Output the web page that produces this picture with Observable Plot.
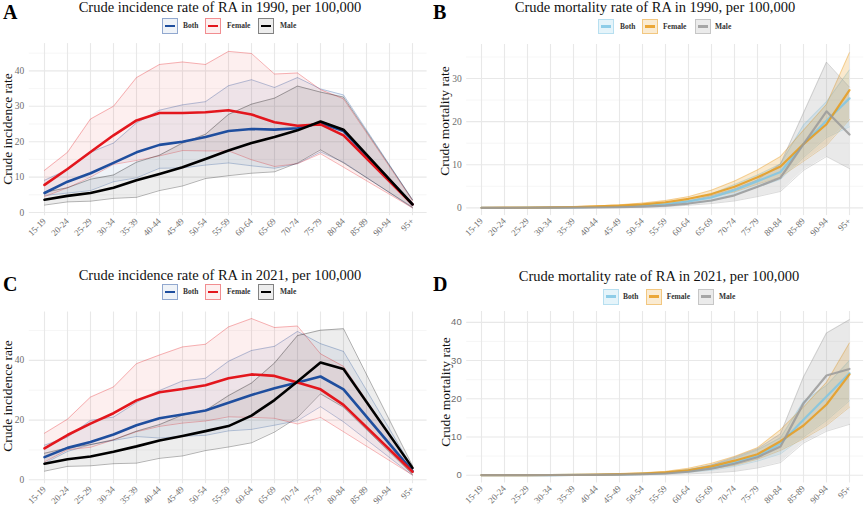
<!DOCTYPE html>
<html><head><meta charset="utf-8">
<script src="https://cdn.jsdelivr.net/npm/d3@7"></script>
<script src="https://cdn.jsdelivr.net/npm/@observablehq/plot@0.6"></script>
<style>
body{margin:0;background:#fff;}
#root{position:relative;width:865px;height:508px;overflow:hidden;font-family:"Liberation Serif","Times New Roman",serif;color:#111;}
.abs{position:absolute;white-space:nowrap;line-height:1;}
.letter{font-weight:bold;font-size:20px;color:#000;}
.title{font-size:14.5px;transform:translateX(-50%);color:#111;}
.ylab{font-size:13.5px;transform:translate(-50%,-50%) rotate(-90deg);color:#111;}
.key{position:absolute;box-sizing:border-box;}
.keyline{position:absolute;left:2px;right:2px;top:50%;height:2.6px;margin-top:-1.3px;}
.klab{position:absolute;font-size:7.5px;font-weight:bold;color:#333;white-space:nowrap;}
.plot{position:absolute;}
</style></head><body><div id="root"></div><script>
const ages = ["15-19","20-24","25-29","30-34","35-39","40-44","45-49","50-54","55-59","60-64","65-69","70-74","75-79","80-84","85-89","90-94","95+"];
const sexes = ["Both","Female","Male"];

// Panel A: crude incidence 1990
const inc1990_both    = [5.5, 8.7, 11.1, 14.0, 17.0, 19.1, 20.0, 21.3, 23.0, 23.6, 23.4, 23.8, 25.3, 23.0, null, null, 2.3];
const inc1990_both_lo = [4.8, 5.5, 6.2, 8.7, 9.8, 12.5, 12.6, 13.4, 14.0, 13.2, 12.5, 13.8, 17.1, 14.2, null, null, 1.3];
const inc1990_both_hi = [9.1, 12.1, 17.0, 19.6, 25.3, 28.9, 30.4, 31.3, 35.8, 37.5, 35.3, 38.1, 34.9, 33.2, null, null, 3.6];
const inc1990_female    = [7.8, 12.3, 17.1, 21.8, 26.0, 28.1, 28.1, 28.3, 28.9, 27.7, 25.5, 24.5, 24.9, 21.8, null, null, 2.3];
const inc1990_female_lo = [4.5, 7.0, 10.0, 13.6, 14.7, 16.0, 17.5, 17.4, 17.4, 14.9, 13.0, 13.8, 16.6, 12.8, null, null, 1.3];
const inc1990_female_hi = [11.9, 17.0, 26.4, 30.0, 38.1, 41.8, 42.5, 41.8, 45.5, 44.9, 39.1, 39.4, 34.7, 32.1, null, null, 3.4];
const inc1990_male    = [3.6, 4.7, 5.5, 7.0, 9.1, 10.9, 12.8, 15.1, 17.5, 19.6, 21.3, 23.2, 25.7, 23.4, null, null, 2.3];
const inc1990_male_lo = [2.1, 3.0, 3.2, 4.0, 4.3, 6.2, 7.5, 9.6, 10.4, 11.1, 11.5, 14.0, 17.7, 14.0, null, null, 1.5];
const inc1990_male_hi = [5.7, 7.0, 9.4, 10.6, 14.2, 16.2, 19.6, 22.1, 27.7, 30.6, 32.3, 35.7, 34.0, 32.6, null, null, 3.6];

// Panel B: crude mortality 1990
const mort1990_both    = [0.01, 0.02, 0.04, 0.07, 0.12, 0.2, 0.32, 0.55, 0.85, 1.5, 2.4, 4.1, 6.2, 8.3, 14.8, 20.2, 25.4];
const mort1990_both_lo = [0, 0.01, 0.02, 0.04, 0.08, 0.12, 0.2, 0.35, 0.55, 1.0, 1.6, 3.0, 4.8, 6.6, 11.7, 16.3, 18.8];
const mort1990_both_hi = [0.02, 0.04, 0.07, 0.12, 0.18, 0.3, 0.45, 0.8, 1.2, 2.0, 3.2, 5.4, 7.6, 10.2, 19.2, 24.6, 32.0];
const mort1990_female    = [0.02, 0.03, 0.06, 0.12, 0.2, 0.32, 0.5, 0.8, 1.3, 2.1, 3.2, 4.9, 7.1, 9.6, 14.8, 19.4, 27.3];
const mort1990_female_lo = [0.01, 0.02, 0.04, 0.08, 0.13, 0.2, 0.32, 0.5, 0.9, 1.5, 2.5, 3.7, 5.5, 7.2, 10.8, 14.5, 20.5];
const mort1990_female_hi = [0.03, 0.05, 0.09, 0.17, 0.28, 0.45, 0.7, 1.1, 1.7, 2.6, 4.1, 6.2, 8.8, 11.9, 18.0, 24.0, 36.0];
const mort1990_male    = [0.01, 0.01, 0.02, 0.03, 0.05, 0.08, 0.14, 0.28, 0.5, 1.0, 1.7, 2.9, 4.9, 7.0, 14.8, 22.4, 17.0];
const mort1990_male_lo = [0, 0, 0.01, 0.01, 0.02, 0.04, 0.07, 0.15, 0.28, 0.6, 1.0, 1.6, 2.6, 3.8, 8.7, 11.9, 9.1];
const mort1990_male_hi = [0.02, 0.02, 0.03, 0.05, 0.08, 0.13, 0.22, 0.42, 0.8, 1.6, 2.8, 4.4, 6.5, 10.2, 22.0, 33.8, 28.0];

// Panel C: crude incidence 2021
const inc2021_both    = [7.6, 10.7, 12.7, 15.2, 18.3, 20.6, 21.9, 23.2, 25.8, 28.4, 30.7, 32.6, 34.6, 30.3, null, null, 2.9];
const inc2021_both_lo = [5.5, 9.5, 11.8, 13.2, 14.5, 14.0, 14.6, 14.9, 16.4, 16.9, 18.3, 19.8, 24.5, 19.4, null, null, 1.5];
const inc2021_both_hi = [11.6, 14.3, 19.9, 21.0, 25.9, 29.9, 33.1, 34.0, 39.7, 43.3, 44.7, 49.7, 45.6, 43.0, null, null, 4.0];
const inc2021_female    = [10.5, 15.0, 18.8, 22.3, 26.6, 29.3, 30.4, 31.7, 34.0, 35.3, 34.8, 32.6, 30.3, 25.1, null, null, 2.7];
const inc2021_female_lo = [6.0, 10.1, 10.9, 13.4, 16.1, 17.9, 19.0, 19.7, 21.1, 20.9, 20.6, 18.7, 20.9, 16.1, null, null, 1.6];
const inc2021_female_hi = [15.6, 20.3, 27.7, 31.1, 38.9, 41.8, 44.5, 45.4, 51.2, 54.0, 51.0, 51.5, 42.2, 38.0, null, null, 4.0];
const inc2021_male    = [5.4, 6.9, 7.8, 9.4, 11.2, 13.2, 14.7, 16.3, 18.0, 21.5, 26.7, 32.9, 39.3, 37.1, null, null, 4.0];
const inc2021_male_lo = [2.9, 4.5, 4.7, 5.4, 5.6, 7.2, 8.0, 9.8, 11.0, 12.4, 16.0, 20.9, 28.8, 24.3, null, null, 1.8];
const inc2021_male_hi = [8.9, 10.7, 11.8, 13.4, 16.3, 18.5, 21.7, 23.2, 28.2, 32.4, 39.1, 48.3, 50.1, 50.6, null, null, 4.7];

// Panel D: crude mortality 2021
const mort2021_both    = [0.01, 0.01, 0.02, 0.04, 0.07, 0.12, 0.2, 0.35, 0.6, 1.1, 1.9, 3.3, 5.0, 8.3, 14.5, 20.6, 26.7];
const mort2021_both_lo = [0, 0.01, 0.01, 0.02, 0.04, 0.07, 0.13, 0.22, 0.4, 0.75, 1.3, 2.3, 3.7, 5.6, 10.0, 14.3, 19.5];
const mort2021_both_hi = [0.02, 0.02, 0.03, 0.06, 0.1, 0.17, 0.28, 0.48, 0.8, 1.5, 2.6, 4.4, 6.6, 9.8, 19.3, 23.5, 30.0];
const mort2021_female    = [0.01, 0.02, 0.03, 0.06, 0.1, 0.16, 0.27, 0.45, 0.75, 1.3, 2.3, 3.8, 5.5, 8.9, 13.0, 18.5, 26.4];
const mort2021_female_lo = [0.01, 0.01, 0.02, 0.04, 0.07, 0.11, 0.18, 0.3, 0.5, 0.9, 1.7, 2.6, 4.2, 6.5, 9.5, 13.0, 17.8];
const mort2021_female_hi = [0.02, 0.03, 0.05, 0.09, 0.14, 0.22, 0.38, 0.62, 1.0, 1.8, 3.1, 4.9, 7.2, 11.9, 17.8, 24.3, 34.6];
const mort2021_male    = [0.01, 0.01, 0.02, 0.03, 0.05, 0.08, 0.13, 0.25, 0.45, 0.9, 1.7, 3.0, 4.7, 7.5, 18.8, 26.1, 27.8];
const mort2021_male_lo = [0, 0, 0.01, 0.01, 0.02, 0.04, 0.06, 0.12, 0.2, 0.35, 0.6, 1.0, 1.9, 3.3, 8.4, 11.5, 13.3];
const mort2021_male_hi = [0.02, 0.02, 0.03, 0.05, 0.08, 0.13, 0.22, 0.4, 0.7, 1.4, 2.7, 4.7, 6.9, 10.8, 25.7, 37.2, 40.7];

const titles = {
  A: "Crude incidence rate of RA in 1990, per 100,000",
  B: "Crude mortality rate of RA in 1990, per 100,000",
  C: "Crude incidence rate of RA in 2021, per 100,000",
  D: "Crude mortality rate of RA in 2021, per 100,000"
};
const yLabels = {inc: "Crude incidence rate", mort: "Crude mortality rate"};
const incColors = {Both: "#1f4e9e", Female: "#e3161d", Male: "#000000"};
const mortColors = {Both: "#7fc6e4", Female: "#e89b1c", Male: "#9a9a9a"};

function rows(mean, lo, hi) {
  return ages.map((age, i) => ({age, mean: mean[i], lo: lo[i], hi: hi[i]})).filter(d => d.mean != null);
}

const root = document.getElementById("root");
function addDiv(cls, text, style) {
  const d = document.createElement("div");
  d.className = cls;
  if (text != null) d.textContent = text;
  Object.assign(d.style, style);
  root.appendChild(d);
  return d;
}
function rgba(hex, a) {
  const c = d3.color(hex); c.opacity = a; return c.formatRgb();
}

function panel(cfg) {
  const marks = [
    Plot.ruleY(cfg.minors, {stroke: "#f2f2f2", strokeWidth: 0.7}),
    Plot.ruleY(cfg.majors, {stroke: "#e8e8e8", strokeWidth: 1.1}),
    Plot.gridX({stroke: "#e8e8e8", strokeOpacity: 1, strokeWidth: 1.1})
  ];
  cfg.series.forEach(s => {
    marks.push(Plot.areaY(s.data, {x: "age", y1: "lo", y2: "hi", fill: s.color, fillOpacity: cfg.fillOpacity}));
    marks.push(Plot.lineY(s.data, {x: "age", y: "lo", stroke: s.color, strokeOpacity: cfg.edgeOpacity, strokeWidth: 0.8}));
    marks.push(Plot.lineY(s.data, {x: "age", y: "hi", stroke: s.color, strokeOpacity: cfg.edgeOpacity, strokeWidth: 0.8}));
  });
  cfg.series.forEach(s => {
    marks.push(Plot.lineY(s.data, {x: "age", y: "mean", stroke: s.color, strokeOpacity: cfg.lineOpacity, strokeWidth: cfg.lineWidth}));
  });
  marks.push(Plot.axisX({tickRotate: -45, tickSize: 0, tickPadding: 4, fontSize: 9, fill: "#6e6e6e", label: null, fontFamily: "Liberation Serif"}));
  marks.push(Plot.axisY(cfg.majors, {tickSize: 0, tickPadding: 5, fontSize: 9.5, fill: "#6e6e6e", label: null, fontFamily: cfg.yTickFont}));
  const svg = Plot.plot({
    width: cfg.width, height: cfg.height,
    marginTop: cfg.mt, marginBottom: cfg.mb, marginLeft: cfg.ml, marginRight: cfg.mr,
    style: {fontFamily: "Liberation Serif", background: "transparent", overflow: "visible"},
    x: {type: "point", domain: ages, padding: 0.6},
    y: {domain: cfg.yDomain},
    marks
  });
  const wrap = addDiv("plot", null, {left: cfg.left + "px", top: cfg.top + "px"});
  wrap.appendChild(svg);

  addDiv("abs letter", cfg.letter, {left: cfg.letterX + "px", top: (cfg.letterBase - 16.75) + "px"});
  addDiv("abs title", cfg.title, {left: cfg.titleX + "px", top: (cfg.titleBase - 12.15) + "px"});
  addDiv("abs ylab", cfg.ylab, {left: cfg.ylabX + "px", top: cfg.ylabY + "px"});

  cfg.series.forEach((s, i) => {
    const k = addDiv("key", null, {left: cfg.keyX[i] + "px", top: cfg.keyTop + "px", width: "16px", height: "15.5px",
      border: "1px solid " + rgba(s.color, cfg.keyBorder), background: rgba(s.color, cfg.keyFill)});
    const ln = document.createElement("div");
    ln.className = "keyline";
    ln.style.background = rgba(s.color, cfg.lineOpacity);
    k.appendChild(ln);
    addDiv("klab", s.name, {left: cfg.labX[i] + "px", top: cfg.keyTop + "px", height: "15.5px", lineHeight: "15.5px"});
  });
}

const incSeries = (m) => [
  {name: "Both", color: incColors.Both, data: rows(m.both, m.both_lo, m.both_hi)},
  {name: "Female", color: incColors.Female, data: rows(m.female, m.female_lo, m.female_hi)},
  {name: "Male", color: incColors.Male, data: rows(m.male, m.male_lo, m.male_hi)}
];
const mortSeries = (m) => [
  {name: "Both", color: mortColors.Both, data: rows(m.both, m.both_lo, m.both_hi)},
  {name: "Female", color: mortColors.Female, data: rows(m.female, m.female_lo, m.female_hi)},
  {name: "Male", color: mortColors.Male, data: rows(m.male, m.male_lo, m.male_hi)}
];

const incStyle = {fillOpacity: 0.07, edgeOpacity: 0.38, lineOpacity: 1, lineWidth: 2.6, keyBorder: 0.45, keyFill: 0.07, yTickFont: "Liberation Serif"};
const mortStyle = {fillOpacity: 0.22, edgeOpacity: 0.45, lineOpacity: 0.85, lineWidth: 2.2, keyBorder: 0.45, keyFill: 0.2};

panel(Object.assign({}, incStyle, {
  letter: "A", title: titles.A, ylab: yLabels.inc,
  series: incSeries({both: inc1990_both, both_lo: inc1990_both_lo, both_hi: inc1990_both_hi,
    female: inc1990_female, female_lo: inc1990_female_lo, female_hi: inc1990_female_hi,
    male: inc1990_male, male_lo: inc1990_male_lo, male_hi: inc1990_male_hi}),
  left: 0, top: 36, width: 432, height: 218, mt: 7.1, mb: 38.8, ml: 28.8, mr: 5.4,
  yDomain: [-0.9, 47.7], majors: [0, 10, 20, 30, 40], minors: [5, 15, 25, 35, 45],
  letterX: 3, letterBase: 18.3, titleX: 220, titleBase: 12.5, ylabX: 7.5, ylabY: 129,
  keyTop: 18.3, keyX: [162, 205, 258], labX: [183, 227, 280]
}));

panel(Object.assign({}, mortStyle, {
  letter: "B", title: titles.B, ylab: yLabels.mort, yTickFont: "Liberation Serif",
  series: mortSeries({both: mort1990_both, both_lo: mort1990_both_lo, both_hi: mort1990_both_hi,
    female: mort1990_female, female_lo: mort1990_female_lo, female_hi: mort1990_female_hi,
    male: mort1990_male, male_lo: mort1990_male_lo, male_hi: mort1990_male_hi}),
  left: 432, top: 36, width: 433, height: 218, mt: 8, mb: 38.9, ml: 34.2, mr: 1.9,
  yDomain: [-1.8, 37.9], majors: [0, 10, 20, 30], minors: [5, 15, 25, 35],
  letterX: 433, letterBase: 18.5, titleX: 655, titleBase: 12.5, ylabX: 445, ylabY: 121,
  keyTop: 18.5, keyX: [598, 642, 695], labX: [620, 663, 715]
}));

panel(Object.assign({}, incStyle, {
  letter: "C", title: titles.C, ylab: yLabels.inc,
  series: incSeries({both: inc2021_both, both_lo: inc2021_both_lo, both_hi: inc2021_both_hi,
    female: inc2021_female, female_lo: inc2021_female_lo, female_hi: inc2021_female_hi,
    male: inc2021_male, male_lo: inc2021_male_lo, male_hi: inc2021_male_hi}),
  left: 0, top: 304, width: 432, height: 204, mt: 7.5, mb: 24.8, ml: 28.8, mr: 5.4,
  yDomain: [-1.3, 56.2], majors: [0, 20, 40], minors: [10, 30, 50],
  letterX: 3, letterBase: 290.7, titleX: 220, titleBase: 280.5, ylabX: 7.5, ylabY: 395.5,
  keyTop: 284.3, keyX: [162, 205, 258], labX: [183, 227, 280]
}));

panel(Object.assign({}, mortStyle, {
  letter: "D", title: titles.D, ylab: yLabels.mort, yTickFont: "Liberation Sans",
  series: mortSeries({both: mort2021_both, both_lo: mort2021_both_lo, both_hi: mort2021_both_hi,
    female: mort2021_female, female_lo: mort2021_female_lo, female_hi: mort2021_female_hi,
    male: mort2021_male, male_lo: mort2021_male_lo, male_hi: mort2021_male_hi}),
  left: 432, top: 304, width: 433, height: 204, mt: 7, mb: 25.5, ml: 34.2, mr: 1.9,
  yDomain: [-2.04, 42.84], majors: [0, 10, 20, 30, 40], minors: [5, 15, 25, 35],
  letterX: 433, letterBase: 290.7, titleX: 659, titleBase: 281.3, ylabX: 446, ylabY: 391.5,
  keyTop: 289, keyX: [602.7, 646, 698], labX: [623, 666.7, 719]
}));
</script></body></html>
